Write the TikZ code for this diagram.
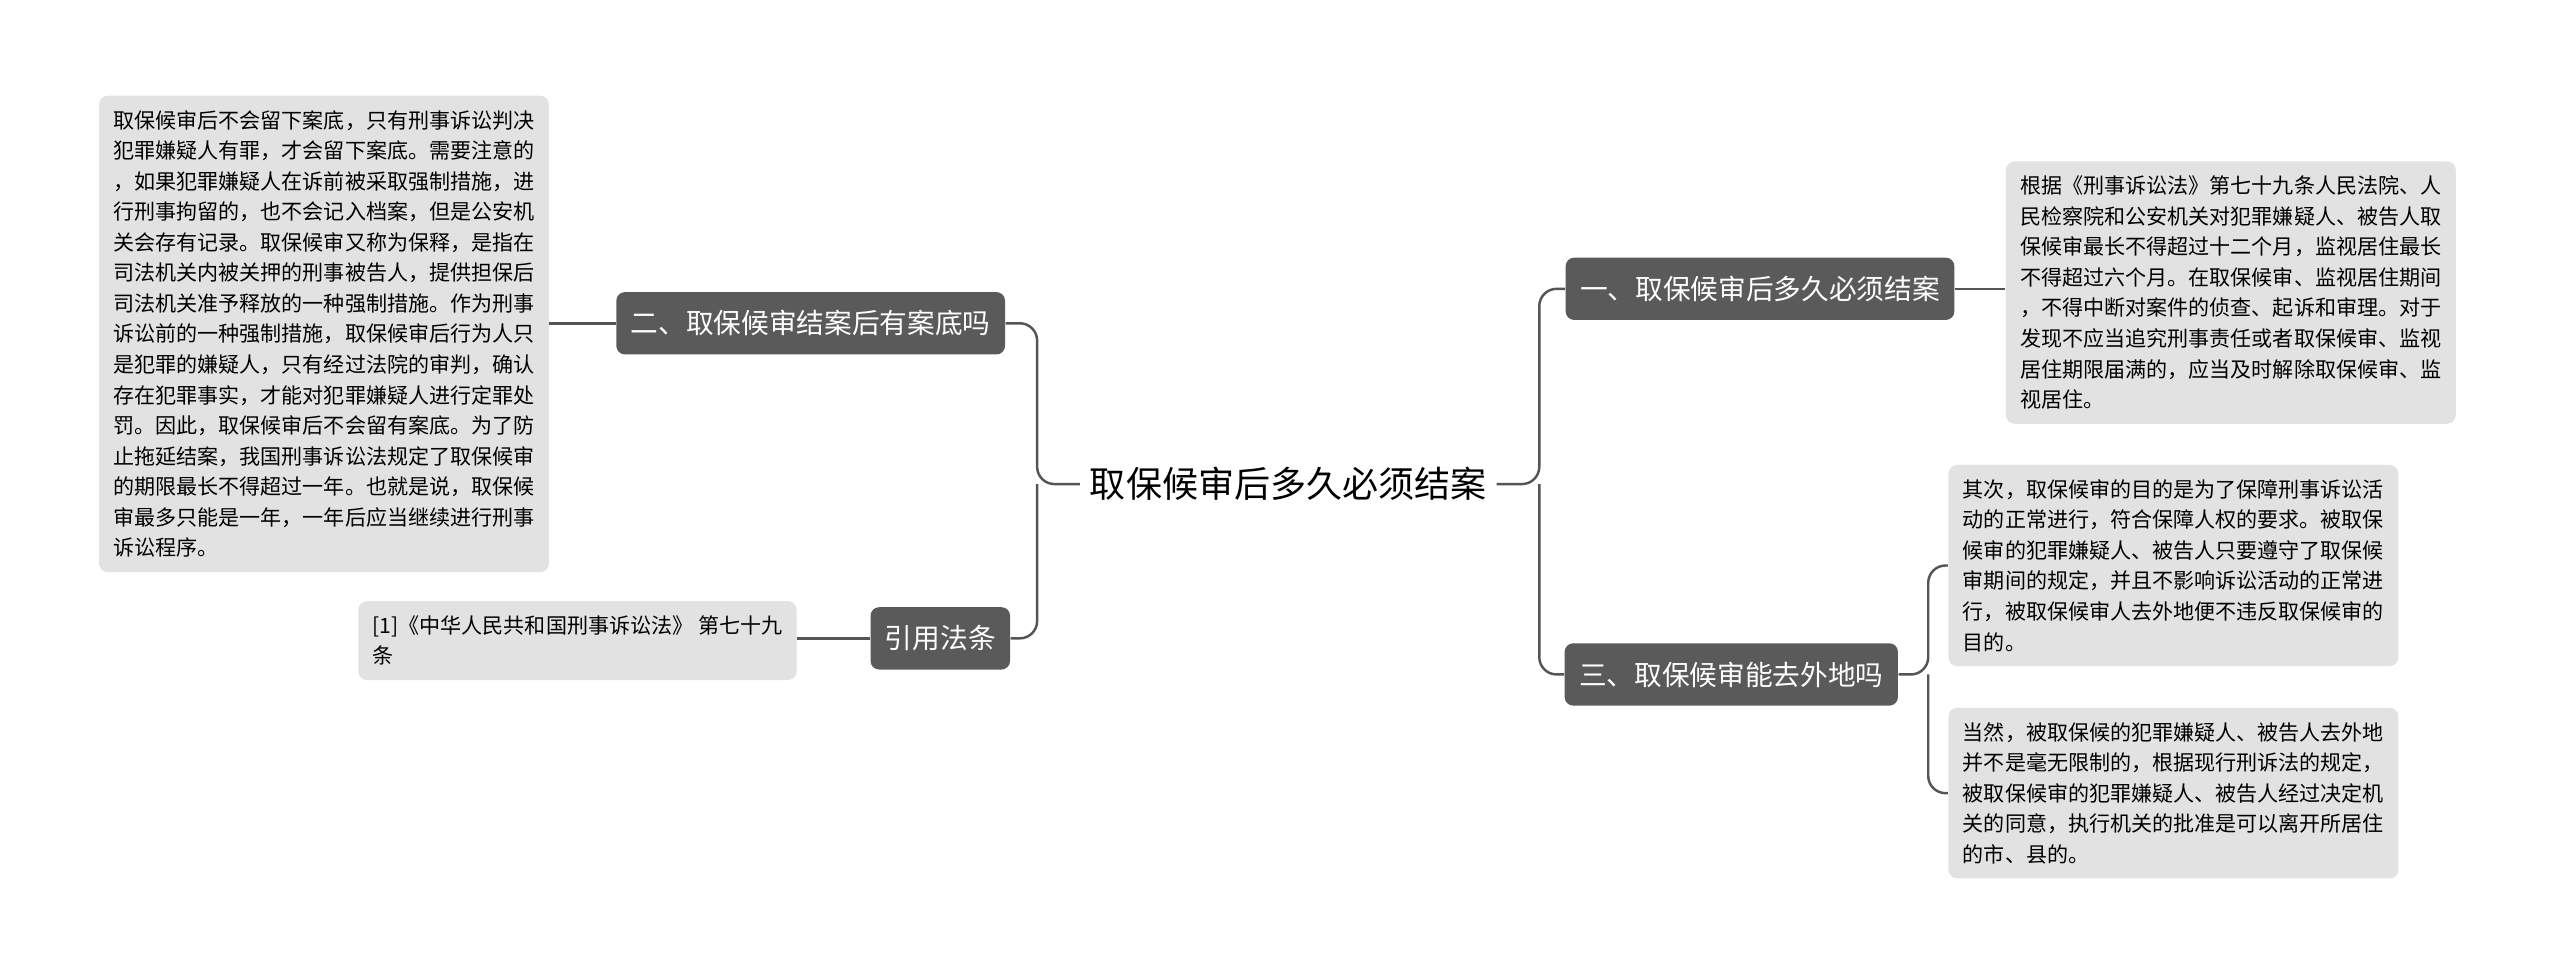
\documentclass[tikz,border=0pt]{standalone}
\usepackage{fontspec}
\setmainfont{Noto Sans CJK SC}
\usetikzlibrary{positioning}
\definecolor{topicgray}{HTML}{5A5A5A}
\definecolor{notegray}{HTML}{E2E2E2}
\definecolor{linegray}{HTML}{555555}
\begin{document}
\begin{tikzpicture}[
        topic/.style={fill=topicgray,text=white,rounded corners=3pt,inner sep=5pt,
            minimum height=0.76cm,font=\fontsize{9.6}{12}\selectfont},
        note/.style={fill=notegray,rounded corners=3pt,inner xsep=5pt,inner ysep=5pt,
            align=left,anchor=north west,font=\fontsize{7.3}{10.6}\selectfont},
        link/.style={draw=linegray,line width=0.85pt,rounded corners=6pt}
    ]
    \useasboundingbox (0,0) rectangle (31.2,-11.76);

    \node[font=\fontsize{12.5}{15}\selectfont] (root) at (15.7,-5.9) {取保候审后多久必须结案};

    % right side
    \node[topic] (q1) at (21.45,-3.52) {一、取保候审后多久必须结案};
    \node[topic] (q3) at (21.1,-8.22) {三、取保候审能去外地吗};
    \node[note] (a1) at (24.44,-1.96) {根据《刑事诉讼法》第七十九条人民法院、人\\民检察院和公安机关对犯罪嫌疑人、被告人取\\保候审最长不得超过十二个月，监视居住最长\\不得超过六个月。在取保候审、监视居住期间\\，不得中断对案件的侦查、起诉和审理。对于\\发现不应当追究刑事责任或者取保候审、监视\\居住期限届满的，应当及时解除取保候审、监\\视居住。};
    \node[note] (a3a) at (23.74,-5.66) {其次，取保候审的目的是为了保障刑事诉讼活\\动的正常进行，符合保障人权的要求。被取保\\候审的犯罪嫌疑人、被告人只要遵守了取保候\\审期间的规定，并且不影响诉讼活动的正常进\\行，被取保候审人去外地便不违反取保候审的\\目的。};
    \node[note] (a3b) at (23.74,-8.62) {当然，被取保候的犯罪嫌疑人、被告人去外地\\并不是毫无限制的，根据现行刑诉法的规定，\\被取保候审的犯罪嫌疑人、被告人经过决定机\\关的同意，执行机关的批准是可以离开所居住\\的市、县的。};

    % left side
    \node[topic] (q2) at (9.88,-3.94) {二、取保候审结案后有案底吗};
    \node[topic] (law) at (11.46,-7.78) {引用法条};
    \node[note] (a2) at (1.2,-1.16) {取保候审后不会留下案底，只有刑事诉讼判决\\犯罪嫌疑人有罪，才会留下案底。需要注意的\\，如果犯罪嫌疑人在诉前被采取强制措施，进\\行刑事拘留的，也不会记入档案，但是公安机\\关会存有记录。取保候审又称为保释，是指在\\司法机关内被关押的刑事被告人，提供担保后\\司法机关准予释放的一种强制措施。作为刑事\\诉讼前的一种强制措施，取保候审后行为人只\\是犯罪的嫌疑人，只有经过法院的审判，确认\\存在犯罪事实，才能对犯罪嫌疑人进行定罪处\\罚。因此，取保候审后不会留有案底。为了防\\止拖延结案，我国刑事诉讼法规定了取保候审\\的期限最长不得超过一年。也就是说，取保候\\审最多只能是一年，一年后应当继续进行刑事\\诉讼程序。};
    \node[note] (ref) at (4.36,-7.32) {[1]《中华人民共和国刑事诉讼法》 第七十九\\条\hspace{12.6em}};

    \coordinate (rj) at (18.76,-5.9);
    \coordinate (lj) at (12.64,-5.9);
    \coordinate (q3j) at (23.5,-8.22);

    \draw[link] (root.east) -- (rj) |- (q1.west);
    \draw[link] (rj) |- (q3.west);
    \draw[link] (root.west) -- (lj) |- (q2.east);
    \draw[link] (lj) |- (law.east);
    \draw[link] (q1.east) -- (a1.west |- q1.east);
    \draw[link] (q3.east) -- (q3j) |- (a3a.west);
    \draw[link] (q3j) |- (a3b.west);
    \draw[link] (q2.west) -- (a2.east |- q2.west);
    \draw[link] (law.west) -- (ref.east |- law.west);
\end{tikzpicture}
\end{document}
